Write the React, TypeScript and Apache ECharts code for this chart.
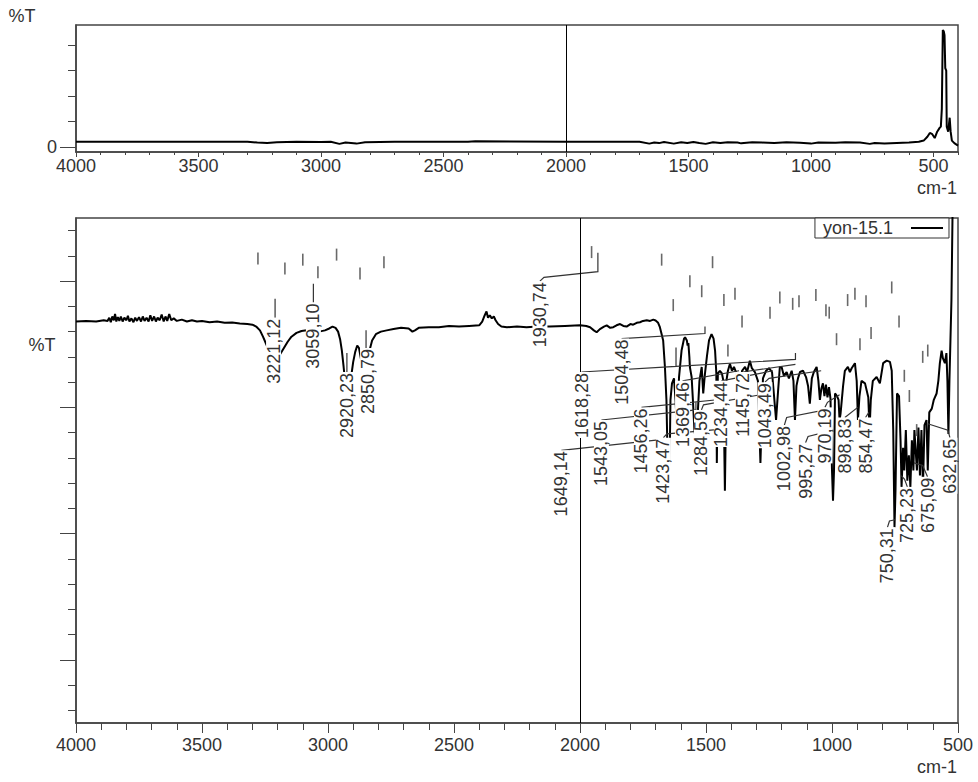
import React, { useEffect, useRef } from "react";
import * as echarts from "echarts";

const FONT = '"Liberation Sans", Arial, Helvetica, sans-serif';
const INK = "#333";
const AXIS = "#444";

// ---------- top overview spectrum (wavenumber, arbitrary %T units) ----------
const topSpectrum: number[][] = [
  [4000, 0.2], [3500, 0.2], [3300, 0.2], [3260, 0.17], [3220, 0.15], [3180, 0.18], [3100, 0.2],
  [3000, 0.19], [2960, 0.2], [2925, 0.12], [2900, 0.17], [2855, 0.13], [2820, 0.18], [2700, 0.2],
  [2400, 0.2], [2370, 0.22], [2000, 0.2], [1700, 0.2], [1660, 0.13], [1640, 0.17], [1620, 0.15],
  [1600, 0.19], [1560, 0.13], [1530, 0.18], [1505, 0.15], [1480, 0.19], [1456, 0.15], [1430, 0.12],
  [1400, 0.18], [1370, 0.15], [1340, 0.18], [1300, 0.17], [1285, 0.14], [1240, 0.18], [1200, 0.17],
  [1150, 0.15], [1100, 0.18], [1045, 0.16], [1000, 0.13], [970, 0.17], [900, 0.16], [860, 0.18],
  [800, 0.17], [760, 0.12], [740, 0.15], [700, 0.13], [650, 0.15], [600, 0.17], [560, 0.2],
  [540, 0.25], [525, 0.4], [515, 0.55], [505, 0.5], [495, 0.35], [485, 0.6], [475, 0.75],
  [470, 0.8], [466, 1.5], [462, 4.6], [458, 4.55], [455, 4.4], [452, 3.1], [448, 3.0], [446, 0.8],
  [440, 0.6], [434, 1.15], [430, 0.6], [425, 0.25], [415, 0.15], [400, 0.05],
];

// ---------- main spectrum, 4000-2000 cm-1 ----------
const spectrumHigh: number[][] = [
  [4000, 26.8], [3960, 26.85], [3920, 26.8], [3890, 26.9], [3875, 26.85], [3868, 27.1], [3862, 26.75],
  [3856, 27.2], [3850, 26.9], [3845, 27.4], [3840, 26.8], [3834, 27.15], [3828, 26.85], [3822, 27.2],
  [3815, 26.8], [3808, 27.1], [3800, 26.9], [3794, 27.25], [3788, 26.8], [3780, 27.05], [3772, 26.75],
  [3765, 27.1], [3758, 26.85], [3750, 27.15], [3742, 26.8], [3735, 27.2], [3728, 26.85], [3720, 27.1],
  [3712, 26.8], [3705, 27.3], [3698, 26.85], [3690, 27.2], [3683, 26.8], [3676, 27.1], [3668, 26.9],
  [3660, 27.35], [3652, 26.8], [3645, 27.2], [3638, 26.85], [3630, 27.4], [3622, 26.9], [3612, 27.05],
  [3600, 26.85], [3580, 26.95], [3560, 26.8], [3540, 26.9], [3520, 26.8], [3500, 26.85], [3470, 26.75],
  [3440, 26.8], [3410, 26.7], [3380, 26.72], [3350, 26.65], [3320, 26.6], [3300, 26.55], [3285, 26.4],
  [3270, 26.1], [3258, 25.6], [3245, 25.0], [3232, 24.4], [3220, 24.0], [3205, 24.0], [3190, 24.2],
  [3175, 24.7], [3160, 25.2], [3145, 25.6], [3125, 25.9], [3105, 26.05], [3085, 26.1], [3060, 26.0],
  [3035, 26.0], [3012, 26.1], [2995, 26.25], [2982, 26.4], [2970, 26.3], [2960, 26.0], [2952, 25.4],
  [2945, 24.5], [2938, 23.2], [2932, 22.0], [2926, 20.8], [2920, 20.5], [2914, 21.2], [2907, 22.6],
  [2900, 23.6], [2892, 24.4], [2884, 24.9], [2877, 24.7], [2869, 23.8], [2861, 22.6], [2853, 21.9],
  [2846, 22.3], [2840, 23.6], [2834, 24.6], [2825, 25.3], [2810, 25.8], [2790, 26.0], [2767, 26.1],
  [2740, 26.2], [2710, 26.3], [2680, 26.25], [2665, 26.0], [2655, 26.1], [2640, 26.3], [2600, 26.35],
  [2560, 26.35], [2520, 26.45], [2480, 26.4], [2440, 26.45], [2400, 26.5], [2388, 26.8], [2378, 27.3],
  [2371, 27.6], [2365, 27.1], [2358, 27.3], [2350, 27.05], [2342, 27.2], [2335, 26.9], [2325, 26.6],
  [2312, 26.4], [2290, 26.35], [2250, 26.4], [2212, 26.35], [2170, 26.4], [2120, 26.4], [2060, 26.45],
];

// ---------- main spectrum, 2000-500 cm-1 ----------
const spectrumLow: number[][] = [
  [2000, 26.5], [1975, 26.45], [1960, 26.35], [1945, 26.1], [1934, 25.95], [1921, 26.2], [1905, 26.4],
  [1894, 26.5], [1880, 26.3], [1868, 26.35], [1855, 26.5], [1841, 26.6], [1828, 26.45], [1815, 26.4],
  [1800, 26.6], [1789, 26.55], [1775, 26.7], [1762, 26.74], [1750, 26.85], [1735, 26.9], [1722, 26.85],
  [1709, 26.95], [1700, 26.88], [1690, 26.7], [1683, 26.35], [1676, 25.8], [1670, 25.3], [1663, 23.2],
  [1657, 20.6], [1654, 17.6], [1651, 14.2], [1647, 15.0], [1643, 17.6], [1641, 20.6], [1635, 21.9],
  [1627, 22.3], [1621, 20.6], [1617, 19.0], [1611, 20.6], [1607, 22.4], [1597, 24.5], [1587, 25.45],
  [1583, 25.55], [1576, 25.3], [1573, 24.9], [1570, 25.1], [1566, 24.0], [1564, 23.2], [1557, 22.4],
  [1552, 20.6], [1546, 18.2], [1540, 17.4], [1532, 19.8], [1526, 22.1], [1517, 23.2], [1511, 21.1],
  [1504, 22.7], [1496, 24.1], [1488, 25.3], [1478, 25.8], [1470, 25.45], [1464, 24.5], [1459, 22.7],
  [1457, 15.6], [1453, 22.7], [1445, 22.9], [1437, 22.7], [1431, 22.1], [1425, 13.4], [1419, 22.1],
  [1413, 22.9], [1405, 23.45], [1397, 22.9], [1389, 23.2], [1381, 22.8], [1373, 21.3], [1369, 19.5],
  [1365, 21.3], [1357, 22.9], [1345, 23.2], [1337, 22.8], [1326, 23.7], [1318, 23.1], [1306, 22.8],
  [1294, 22.1], [1284, 15.6], [1274, 22.3], [1262, 22.9], [1250, 23.1], [1238, 22.8], [1230, 20.9],
  [1222, 19.0], [1214, 21.3], [1207, 23.2], [1200, 23.2], [1191, 22.5], [1180, 22.8], [1171, 22.3],
  [1160, 22.9], [1153, 22.1], [1147, 19.0], [1141, 21.7], [1135, 22.3], [1127, 22.8], [1115, 22.9],
  [1103, 22.4], [1095, 21.7], [1088, 20.3], [1080, 22.3], [1072, 22.8], [1061, 23.2], [1054, 22.1],
  [1048, 20.6], [1042, 21.5], [1036, 21.9], [1030, 20.9], [1024, 21.8], [1018, 20.8], [1012, 21.6],
  [1006, 20.7], [1000, 15.0], [996, 12.6], [992, 15.0], [988, 21.1], [980, 20.9], [974, 20.6],
  [970, 19.0], [966, 19.5], [956, 21.7], [949, 22.9], [937, 23.2], [929, 22.8], [922, 23.1],
  [909, 23.5], [902, 22.1], [897, 19.0], [891, 20.9], [883, 22.1], [869, 21.9], [856, 20.8],
  [851, 18.2], [846, 20.6], [838, 22.1], [823, 22.4], [810, 21.9], [797, 23.5], [783, 23.7],
  [770, 23.6], [763, 22.9], [757, 18.2], [752, 10.5], [748, 13.4], [742, 21.1], [734, 20.9],
  [728, 17.4], [724, 13.7], [718, 16.8], [713, 15.0], [707, 18.2], [701, 14.2], [695, 16.2],
  [689, 13.7], [683, 17.4], [677, 15.0], [673, 18.2], [663, 15.0], [657, 18.4], [651, 14.6],
  [645, 18.2], [639, 13.7], [633, 18.6], [625, 19.0], [620, 15.0], [614, 19.6], [604, 19.9],
  [596, 20.6], [585, 21.1], [578, 22.1], [572, 23.5], [565, 24.5], [560, 23.9], [552, 23.5],
  [546, 24.3], [542, 22.1], [538, 17.9], [534, 22.1], [530, 25.3], [526, 28.5], [522, 34.8],
  [518, 40.3], [500, 44],
];

// ---------- peak annotations ----------
const peakText = [
  "3221,12", "3059,10", "2920,23", "2850,79", "1930,74", "1649,14", "1618,28", "1543,05", "1504,48",
  "1456,26", "1423,47", "1369,46", "1284,59", "1234,44", "1145,72", "1043,49", "1002,98", "995,27",
  "970,19", "898,83", "854,47", "750,31", "725,23", "675,09", "632,65",
];
// where each label ends (its upper end), in axis units
const peakLabelAt: number[][] = [
  [3216, 27.1], [3058, 28.3], [2925, 22.8], [2843, 24.7], [2159, 30.0], [2074, 16.6], [1994, 22.8],
  [1915, 19.0], [1835, 25.45], [1756, 20.0], [1669, 17.6], [1593, 22.1], [1518, 19.8], [1439, 22.1],
  [1355, 22.8], [1266, 22.0], [1189, 18.6], [1105, 17.2], [1028, 20.0], [949, 19.2], [867, 19.2],
  [780, 10.5], [701, 13.7], [621, 14.5], [532, 17.6],
];
const peakLeaders: number[][][] = [
  [[3210, 27.1], [3210, 28.6]],
  [[3058, 28.3], [3058, 29.8]],
  [[2925, 22.8], [2925, 24.3]],
  [[2849, 24.7], [2849, 26.1]],
  [[2159, 30.0], [2143, 30.3], [1929, 30.75], [1929, 32.25]],
  [[2074, 16.6], [1652, 17.5]],
  [[1994, 22.8], [1619, 23.25], [1619, 24.75]],
  [[1915, 19.0], [1540, 19.8], [1540, 20.4]],
  [[1835, 25.45], [1504, 25.85], [1504, 26.4]],
  [[1756, 20.0], [1456, 20.6], [1456, 21.2]],
  [[1669, 17.6], [1655, 17.9], [1423, 18.3]],
  [[1593, 22.1], [1369, 22.9]],
  [[1518, 19.8], [1510, 20.2], [1284, 21.0]],
  [[1439, 22.1], [1234, 22.9]],
  [[1355, 22.8], [1145, 23.4]],
  [[1266, 22.0], [1250, 22.3], [1043, 22.9]],
  [[1189, 18.6], [1180, 19.2], [1002, 19.9]],
  [[1105, 17.2], [1095, 17.7], [995, 18.2]],
  [[1028, 20.0], [1018, 20.4], [970, 21.0]],
  [[949, 19.2], [898, 20.0]],
  [[867, 19.2], [854, 19.6]],
  [[780, 10.5], [772, 11.0], [750, 11.1]],
  [[701, 13.7], [712, 14.3], [725, 14.6]],
  [[621, 14.5], [640, 15.4], [675, 15.6]],
  [[532, 17.6], [540, 18.2], [620, 18.7]],
  [[1619, 23.25], [1145, 23.8], [1145, 24.3]],
];
// small unlabelled peak markers
const peakMarks: number[][] = [
  [3278, 31.8], [3171, 31.0], [3100, 31.7], [3040, 30.7], [2966, 32.1], [2873, 30.6], [2778, 31.5],
  [1954, 32.3], [1676, 31.7], [1630, 28.1], [1564, 30.0], [1517, 29.2], [1474, 31.5], [1429, 28.5],
  [1385, 29.0], [1357, 26.8], [1413, 24.5], [1246, 27.5], [1207, 28.7], [1156, 28.2], [1131, 28.4],
  [1064, 28.9], [1024, 27.7], [1011, 27.5], [982, 25.4], [938, 28.5], [909, 29.0], [889, 25.0],
  [865, 28.4], [845, 25.9], [763, 29.5], [734, 26.8], [713, 22.5], [693, 20.9], [664, 18.2],
  [640, 24.0], [620, 24.5],
];

const topLabelTicks = [500, 1000, 1500, 2000, 2500, 3000, 3500, 4000];
const cursorWn = 2000;

function range(a: number, b: number, s: number) {
  const r: number[] = [];
  for (let v = a; v <= b + 1e-9; v += s) r.push(Math.round(v * 100) / 100);
  return r;
}

export default function App() {
  const ref = useRef<HTMLDivElement>(null);
  useEffect(() => {
    const chart = echarts.init(ref.current!, null, { renderer: "svg" });
    const topMinor = range(400, 4000, 100).filter((v) => v % 500 !== 0);
    const botMajorY = [0, 10, 20, 30];
    const botMinorY = range(-4, 34, 2).filter((v) => v % 10 !== 0);
    const axisLine = { show: true, onZero: false, lineStyle: { color: AXIS, width: 1.5 } };
    const noLine = { show: false, onZero: false };
    const fmt = (v: number) => String(v);
    const labelStyle = { fontSize: 18, fontFamily: FONT, color: INK };

    const option: any = {
      animation: false,
      backgroundColor: "#fff",
      grid: [
        { left: 76, top: 25, width: 882, height: 127, show: true, borderColor: AXIS, borderWidth: 1.5 },
        { left: 76, top: 218, width: 882, height: 505, show: true, borderColor: AXIS, borderWidth: 1.5 },
      ],
      xAxis: [
        {
          gridIndex: 0, type: "value", position: "bottom", min: 400, max: 4000, inverse: true,
          axisLine, splitLine: { show: false },
          axisTick: { show: true, customValues: topLabelTicks, length: 5, lineStyle: { color: AXIS } },
          axisLabel: { customValues: topLabelTicks, margin: 5, formatter: fmt, ...labelStyle },
        },
        {
          gridIndex: 0, type: "value", position: "bottom", min: 400, max: 4000, inverse: true,
          axisLine: noLine, splitLine: { show: false },
          axisTick: { show: true, customValues: topMinor, length: 3, lineStyle: { color: AXIS } },
          axisLabel: { show: false },
        },
        {
          gridIndex: 1, type: "value", position: "bottom", min: 500, max: 4000, interval: 500, inverse: true,
          axisLine, splitLine: { show: false },
          axisTick: { show: true, length: 10, lineStyle: { color: AXIS } },
          minorTick: { show: true, splitNumber: 5, length: 7, lineStyle: { color: AXIS } },
          axisLabel: { margin: 13, formatter: fmt, ...labelStyle },
        },
      ],
      yAxis: [
        {
          gridIndex: 0, type: "value", position: "left", min: -0.2, max: 4.8,
          axisLine, splitLine: { show: false },
          axisTick: { show: true, customValues: [0], length: 16, lineStyle: { color: AXIS } },
          axisLabel: { customValues: [0], margin: 19, formatter: fmt, ...labelStyle },
        },
        {
          gridIndex: 0, type: "value", position: "left", min: -0.2, max: 4.8,
          axisLine: noLine, splitLine: { show: false },
          axisTick: { show: true, customValues: [1, 2, 3, 4], length: 8, lineStyle: { color: AXIS } },
          axisLabel: { show: false },
        },
        {
          gridIndex: 1, type: "value", position: "left", min: -5, max: 35,
          axisLine, splitLine: { show: false },
          axisTick: { show: true, customValues: botMajorY, length: 16, lineStyle: { color: AXIS } },
          axisLabel: { show: false },
        },
        {
          gridIndex: 1, type: "value", position: "left", min: -5, max: 35,
          axisLine: noLine, splitLine: { show: false },
          axisTick: { show: true, customValues: botMinorY, length: 8, lineStyle: { color: AXIS } },
          axisLabel: { show: false },
        },
      ],
      legend: {
        data: [{ name: "yon-15.1", icon: "rect" }],
        right: 29, top: 218, align: "right",
        itemWidth: 32, itemHeight: 2,
        backgroundColor: "#fff", borderColor: INK, borderWidth: 1,
        padding: [0, 6, 0, 8],
        textStyle: { ...labelStyle, padding: [0, 13, 0, 0], lineHeight: 20 },
        selectedMode: false,
      },
      graphic: [
        { type: "text", x: 22, y: 16, style: { text: "%T", font: `18px ${FONT}`, fill: INK, align: "center", verticalAlign: "middle" } },
        { type: "text", x: 42, y: 345, style: { text: "%T", font: `18px ${FONT}`, fill: INK, align: "center", verticalAlign: "middle" } },
        { type: "text", x: 937, y: 188, style: { text: "cm-1", font: `18px ${FONT}`, fill: INK, align: "center", verticalAlign: "middle" } },
        { type: "text", x: 937, y: 767, style: { text: "cm-1", font: `18px ${FONT}`, fill: INK, align: "center", verticalAlign: "middle" } },
      ],
      series: [
        {
          name: "overview", type: "line", xAxisIndex: 0, yAxisIndex: 0,
          data: topSpectrum, showSymbol: false, symbol: "none", color: "#000",
          lineStyle: { color: "#000", width: 2 }, z: 2, silent: true,
          markLine: {
            silent: true, symbol: ["none", "none"], label: { show: false },
            lineStyle: { color: "#000", width: 1, type: "solid" },
            data: [{ xAxis: cursorWn }],
          },
        },
        {
          name: "yon-15.1", type: "line", xAxisIndex: 2, yAxisIndex: 2,
          data: [...spectrumHigh, ...spectrumLow], showSymbol: false, symbol: "none", color: "#000",
          lineStyle: { color: "#000", width: 2 }, z: 2, silent: true,
          markLine: {
            silent: true, symbol: ["none", "none"], label: { show: false },
            lineStyle: { color: "#000", width: 1, type: "solid" },
            data: [{ xAxis: cursorWn }],
          },
        },
        {
          type: "scatter", xAxisIndex: 2, yAxisIndex: 2, data: peakMarks,
          symbol: "rect", symbolSize: [1.6, 12], itemStyle: { color: "#444" }, z: 3, silent: true,
        },
        {
          type: "custom", xAxisIndex: 2, yAxisIndex: 2, z: 4, silent: true, clip: false,
          data: peakLeaders.map((l) => l[0]),
          renderItem: (params: any, api: any) => ({
            type: "polyline",
            shape: { points: peakLeaders[params.dataIndex].map((p) => api.coord(p)) },
            style: { stroke: INK, lineWidth: 1.2, fill: null },
          }),
        },
        {
          type: "custom", xAxisIndex: 2, yAxisIndex: 2, z: 6, silent: true, clip: false,
          data: peakLabelAt,
          renderItem: (params: any, api: any) => {
            const p = api.coord([api.value(0), api.value(1)]);
            return {
              type: "text", x: p[0], y: p[1], rotation: Math.PI / 2,
              style: {
                text: peakText[params.dataIndex], font: `18px ${FONT}`, fill: INK,
                align: "right", verticalAlign: "middle",
                backgroundColor: "#fff", lineHeight: 15, padding: [0, 1, 0, 0],
              },
            };
          },
        },
      ],
    };
    chart.setOption(option);
    return () => chart.dispose();
  }, []);
  return (
    <div
      ref={ref}
      style={{ position: "fixed", left: 0, top: 0, width: 978, height: 782, background: "#fff" }}
    />
  );
}
